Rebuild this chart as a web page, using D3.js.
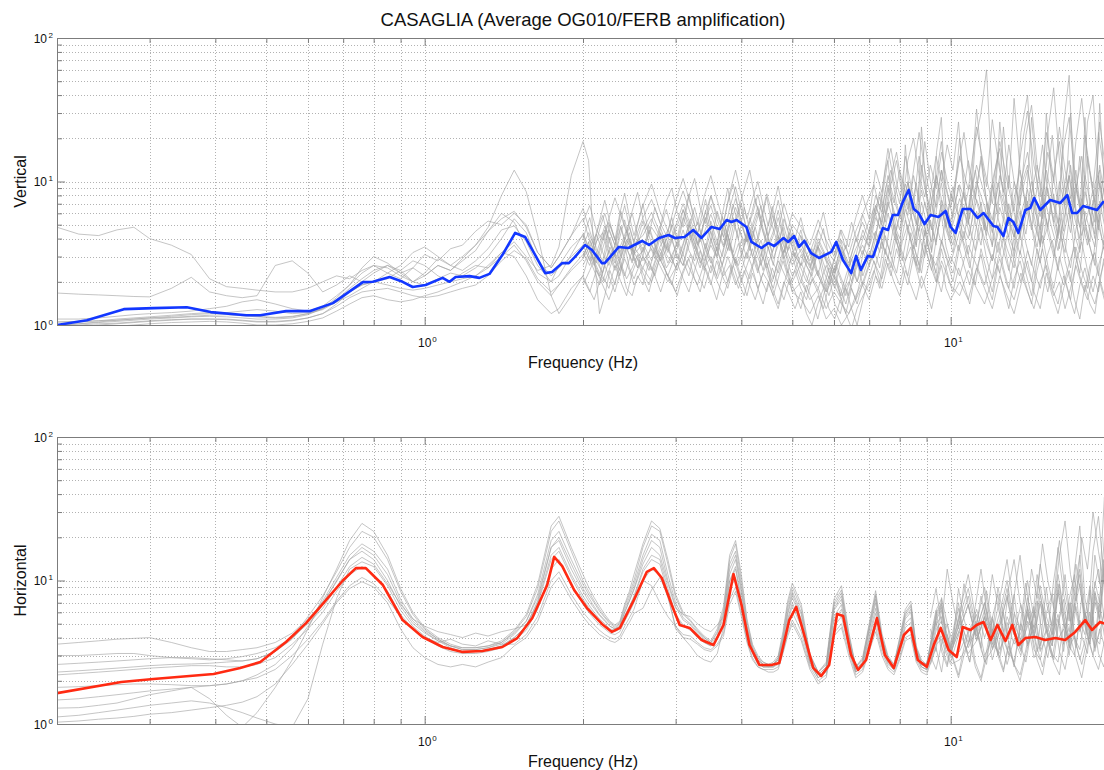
<!DOCTYPE html>
<html>
<head>
<meta charset="utf-8">
<script src="https://cdn.jsdelivr.net/npm/d3@7"></script>
<style>
  body { margin: 0; background: #fff; }
  text { font-family: "Liberation Sans", Arial, Helvetica, sans-serif; fill: #111; }
</style>
</head>
<body>
<script>
// ---- Data -------------------------------------------------------------
// Frequency samples (Hz) of the full-band event ratios
const freqHz = [
  0.20,0.22,0.24,0.26,0.28,0.30,0.33,0.36,0.39,0.42,0.45,0.48,0.52,0.56,0.60,0.64,0.68,0.72,0.76,0.80,
  0.85,0.90,0.95,1.00,1.06,1.12,1.18,1.25,1.32,1.40,1.48,1.56,1.64,1.74,1.80,1.90,
  2.00,2.05,2.10,2.15,2.20,2.25,2.30,2.35,2.40,2.45,2.50,
  2.6,2.7,2.8,2.9,3.0,3.1,3.2,3.3,3.4,3.5,3.6,3.7,3.8,3.9,4.0,4.1,4.2,4.3,4.4,4.5,4.6,4.7,4.8,4.9,5.0,
  5.2,5.4,5.6,5.8,6.0,6.2,6.4,6.6,6.8,7.0,7.2,7.4,7.6,7.8,8.0,8.2,8.4,8.6,8.8,9.0,9.2,9.4,9.6,9.8,10,
  10.4,10.8,11.2,11.6,12,12.4,12.8,13.2,13.6,14,14.4,14.8,15.2,15.6,16,16.4,16.8,17.2,17.6,18,18.4,18.8,19.2,19.6,20
];
// Frequency samples (Hz) of the records that are usable only above 2 Hz
const vertHfHz = [
  2.0,2.06,2.12,2.18,2.24,2.3,2.36,2.42,2.48,2.54,2.6,2.67,2.74,2.81,2.88,2.95,
  3.02,3.1,3.18,3.26,3.34,3.42,3.5,3.59,3.68,3.77,3.86,3.95,
  4.05,4.15,4.25,4.36,4.47,4.58,4.7,4.82,4.94,
  5.06,5.19,5.32,5.45,5.59,5.73,5.87,6.02,6.17,6.32,6.48,6.64,6.81,6.98,
  7.15,7.33,7.51,7.7,7.89,8.09,8.29,8.5,8.71,8.93,9.15,9.38,9.61,9.85,
  10.1,10.35,10.6,10.87,11.14,11.42,11.7,12,12.3,12.6,12.9,13.2,13.55,13.9,14.25,14.6,14.95,15.3,15.7,16.1,
  16.5,16.9,17.3,17.75,18.2,18.65,19.1,19.55,20
];
// Frequency samples (Hz) of the records that are usable only above 9 Hz
const horzHfHz = [9.15,9.38,9.61,9.85,10.1,10.35,10.6,10.87,11.14,11.42,11.7,12,12.3,12.6,12.9,13.2,13.55,13.9,14.25,14.6,
  14.95,15.3,15.7,16.1,16.5,16.9,17.3,17.75,18.2,18.65,19.1,19.55,20];

// Vertical component: full-band event ratios
const vert01 = [4.8,4.3,4.2,4.6,4.8,4.0,3.6,3.1,2.1,1.85,1.8,1.75,1.7,1.7,1.8,2.0,2.2,2.1,2.4,2.6,2.3,2.1,2.5,2.2,2.6,2.4,2.8,3.3,4.5,6.0,5.2,3.4,2.3,2.0,2.6,3.5,
  4.2,3.1,2.6,3.4,4.6,3.2,2.5,3.0,4.1,3.6,2.8,
  3.3,4.8,3.9,2.7,3.5,5.6,4.2,3.1,2.4,3.8,6.2,4.5,3.3,5.1,7.0,4.4,3.0,3.9,5.5,4.1,2.9,3.6,4.8,3.2,2.6,
  3.4,2.5,3.8,2.9,2.2,3.3,2.6,4.0,3.1,4.6,6.8,5.2,9.5,7.1,12,8.4,6.2,9.8,5.6,4.3,7.5,11,6.4,4.8,8.2,
  5.5,14,7.2,4.6,10,17,6.3,4.1,9.2,13,5.8,3.6,8.7,21,7.4,4.5,11,6.6,15,5.2,3.8,9.6,12,5.4,7.8];
const vert02 = [1.67,1.64,1.62,1.6,1.58,1.57,1.8,2.15,1.7,1.6,1.55,1.6,2.6,2.8,2.3,1.7,1.9,2.2,2.0,2.3,2.6,2.4,2.0,2.3,2.9,2.6,3.0,3.6,4.8,8.0,12,8.5,4.2,1.6,1.2,1.6,
  2.2,3.0,2.4,1.9,2.7,3.5,2.8,2.2,3.1,4.0,3.2,
  2.5,3.6,2.9,2.2,3.1,2.6,4.4,3.3,2.5,3.0,2.1,2.8,3.7,2.7,2.0,2.6,3.4,2.4,3.0,2.2,1.8,2.5,3.3,2.4,2.0,
  2.7,1.9,2.4,1.7,2.2,1.6,2.0,1.5,2.4,3.2,2.6,3.8,2.9,5.0,3.6,2.8,4.4,3.1,2.3,3.9,2.7,2.0,3.4,2.5,3.0,
  2.2,3.6,2.6,1.9,3.1,2.3,4.2,2.8,2.0,3.3,2.4,1.8,2.9,3.9,2.5,1.9,2.7,3.5,2.2,1.7,2.6,3.2,2.1,2.8,2.3];
const vert03 = [1.05,1.05,1.07,1.1,1.12,1.14,1.17,1.2,1.22,1.2,1.18,1.15,1.13,1.15,1.2,1.28,1.45,1.7,1.9,2.0,1.9,1.8,1.75,1.8,1.9,2.0,2.1,2.2,2.5,3.2,3.8,3.0,2.4,2.6,3.5,11,
  19,14,3.0,1.2,1.6,2.4,1.9,2.8,3.6,2.5,2.1,
  3.0,2.4,3.5,4.6,3.3,2.6,3.9,5.2,3.6,2.7,3.4,4.8,3.5,2.6,3.1,4.2,3.0,2.3,3.6,2.8,2.1,2.9,4.0,2.7,2.2,
  3.1,2.3,1.8,2.6,1.9,1.5,2.3,2.8,3.6,2.9,4.5,3.4,6.0,4.2,3.3,5.4,3.8,2.6,4.7,3.2,2.4,4.1,5.9,3.5,2.7,
  4.5,3.1,6.2,4.0,2.8,5.1,3.4,2.5,4.6,7.3,3.9,2.7,5.5,3.6,2.4,4.2,6.5,3.2,2.3,4.8,3.5,2.6,5.9,3.8,4.4];
const vert04 = [0.95,0.97,1.0,1.02,1.04,1.06,1.08,1.1,1.1,1.09,1.07,1.05,1.05,1.07,1.12,1.2,1.35,1.55,1.7,1.75,1.8,1.7,1.6,1.55,1.6,1.7,1.8,1.9,2.2,2.8,3.3,2.9,2.1,1.7,1.9,2.5,
  3.1,3.6,2.8,2.3,2.0,2.5,3.2,2.7,2.2,2.9,3.5,
  2.8,3.4,2.6,2.0,2.5,3.1,2.4,1.9,2.7,3.6,2.9,2.2,2.6,1.9,2.4,3.2,2.5,1.8,2.3,2.0,1.6,2.1,2.8,2.2,1.7,
  2.0,1.5,1.8,1.3,1.7,1.4,1.2,1.6,2.0,1.7,2.6,2.1,3.0,2.4,1.9,2.8,3.5,2.5,1.8,2.3,3.1,2.2,1.7,2.5,1.9,
  1.6,2.4,1.8,1.4,2.1,2.9,1.9,1.5,2.3,1.7,1.3,2.0,2.6,1.8,1.4,2.2,1.6,1.2,1.9,2.5,1.7,1.4,2.0,1.5,1.8];
const vert05 = [1.0,1.02,1.04,1.06,1.08,1.1,1.12,1.14,1.15,1.14,1.12,1.1,1.1,1.12,1.18,1.3,1.5,1.8,2.1,2.4,2.6,2.3,2.0,1.9,2.1,2.3,2.2,2.5,3.0,4.0,5.5,4.4,2.8,2.2,2.5,3.0,
  3.6,4.4,3.5,2.9,3.8,5.0,4.0,3.2,3.9,4.8,3.7,
  4.2,5.5,4.1,3.2,4.6,6.3,4.8,3.6,4.4,5.9,4.5,3.5,4.9,6.6,5.0,3.8,4.7,6.1,4.4,3.4,4.2,5.6,4.1,3.3,4.0,
  3.2,2.6,3.5,2.8,2.3,3.0,2.5,3.4,4.2,3.5,5.6,4.5,7.2,5.1,4.0,6.4,4.8,3.6,5.7,4.3,3.3,5.0,6.9,4.6,3.7,
  5.8,4.0,7.5,5.2,3.6,6.6,4.4,3.3,5.9,8.8,5.1,3.7,6.8,4.6,3.3,5.4,7.9,4.3,3.2,6.2,4.5,3.5,7.3,5.0,5.7];
const vert06 = [1.1,1.1,1.12,1.15,1.18,1.2,1.22,1.25,1.3,1.35,1.45,1.5,1.4,1.3,1.25,1.35,1.6,1.9,2.3,2.6,2.5,2.2,2.0,2.2,2.6,2.4,2.9,3.6,4.5,5.5,6.2,4.8,3.2,2.5,3.0,4.2,
  5.5,4.1,3.3,4.6,6.0,4.5,3.6,5.1,6.8,4.9,3.8,
  5.6,7.5,5.2,4.0,6.1,8.6,6.0,4.4,5.8,7.9,5.4,4.1,6.5,9.2,6.3,4.6,5.9,8.1,5.6,4.2,5.3,7.4,5.1,3.9,5.0,
  4.1,3.2,4.6,3.4,2.8,3.9,3.1,4.5,5.9,4.4,8.0,6.1,11,7.5,5.6,9.6,6.9,5.0,8.7,6.2,4.6,7.8,12,7.0,5.3,
  9.5,6.2,13,8.1,5.4,11,7.0,4.9,10,16,8.2,5.7,12,7.6,5.1,9.0,14,6.8,4.8,11,7.3,5.2,13,8.0,9.4];
const vert07 = [1.0,1.0,1.02,1.03,1.05,1.07,1.09,1.1,1.1,1.1,1.08,1.06,1.06,1.08,1.12,1.2,1.4,1.7,1.9,2.0,2.1,2.4,2.8,2.6,2.2,2.0,2.3,2.6,2.5,3.0,3.6,2.8,2.0,1.6,1.9,2.4,
  2.9,3.8,2.7,2.2,3.0,4.1,3.0,2.4,3.3,4.4,3.1,
  3.7,2.8,4.9,3.4,2.5,3.6,5.5,3.8,2.8,4.0,3.0,5.2,3.7,2.7,3.9,2.9,4.5,3.3,2.4,3.5,2.6,4.1,3.0,2.3,3.2,
  2.6,3.4,2.2,1.7,2.9,2.1,1.6,2.4,3.3,2.6,4.0,7.5,14,5.0,3.0,18,6.0,3.5,24,8.0,3.2,16,28,6.0,4.0,
  20,5.0,32,9.0,3.5,26,7.0,3.0,22,40,8.0,3.5,30,9.0,4.0,25,55,7.0,3.4,28,6.0,4.0,35,9.0,22];
const vert08 = [1.05,1.06,1.07,1.08,1.1,1.12,1.13,1.15,1.17,1.18,1.16,1.14,1.12,1.14,1.2,1.3,1.55,1.9,2.5,3.0,2.7,2.3,2.5,3.1,2.8,3.4,3.6,4.5,5.3,5.0,6.0,5.0,3.2,2.5,3.0,4.2,
  6.5,4.8,3.6,5.3,7.4,5.2,3.9,6.0,8.3,5.7,4.2,
  6.8,9.6,6.2,4.5,7.3,10.5,7.0,5.0,7.9,11,7.4,5.2,8.3,12,8.0,5.5,7.6,10,6.8,4.9,6.6,9.3,6.2,4.6,6.0,
  4.8,3.6,5.4,3.9,3.0,4.6,3.5,5.6,8.0,5.5,12,8.4,17,10,7.0,15,9.5,6.3,13,8.2,5.7,11,19,9.3,6.6,
  15,8.8,24,12,7.0,19,10,6.2,16,31,13,7.8,22,12,6.9,18,28,11,6.5,21,12,7.2,26,14,17];
const vert09 = [0.9,0.92,0.95,0.98,1.0,1.02,1.04,1.05,1.06,1.05,1.03,1.0,1.0,1.02,1.06,1.12,1.25,1.4,1.55,1.6,1.5,1.45,1.5,1.6,1.7,1.85,2.0,2.2,2.6,3.2,3.0,2.2,1.5,1.2,1.3,1.8,
  2.2,1.8,1.5,2.0,2.6,2.1,1.7,2.3,2.9,2.4,1.9,
  2.5,2.0,2.9,2.2,1.7,2.4,3.1,2.3,1.8,2.6,2.0,1.6,2.2,2.9,2.1,1.6,2.3,1.8,1.4,2.0,1.6,1.3,1.8,2.4,1.7,
  1.5,1.2,1.6,1.1,1.3,1.0,1.2,1.5,1.9,1.5,2.2,1.8,2.7,2.0,1.6,2.4,1.9,1.5,2.2,1.7,1.3,1.9,2.6,1.8,1.5,
  2.0,1.5,2.5,1.8,1.3,2.2,1.6,1.2,1.9,2.8,1.7,1.3,2.3,1.6,1.2,1.8,2.4,1.5,1.1,1.9,1.4,1.2,2.1,1.6,1.8];
const vert10 = [1.0,1.02,1.05,1.08,1.1,1.12,1.15,1.18,1.2,1.22,1.25,1.28,1.25,1.2,1.22,1.3,1.45,1.6,1.8,2.0,2.3,2.6,3.2,3.5,3.0,2.6,2.4,2.8,3.4,4.6,4.9,3.8,2.6,2.0,2.2,3.1,
  4.3,3.4,2.8,3.7,4.9,3.8,3.0,4.1,5.4,4.0,3.2,
  4.6,6.1,4.4,3.3,4.9,7.0,5.0,3.7,5.2,6.8,4.8,3.6,5.5,7.6,5.2,3.8,5.0,6.7,4.7,3.6,4.5,6.3,4.4,3.4,4.3,
  3.6,2.8,4.0,3.0,2.4,3.5,2.7,3.9,5.2,3.9,6.8,5.0,9.0,6.3,4.6,7.9,5.8,4.2,7.2,5.1,3.8,6.4,9.8,5.8,4.4,
  7.6,5.1,10,6.6,4.4,8.7,5.7,4.1,7.9,12,6.6,4.6,9.2,6.1,4.2,7.3,11,5.6,4.0,8.5,5.9,4.3,9.8,6.4,7.5];

// Vertical component: ratios usable above 2 Hz
const vertHf01 = [3.2,2.6,3.8,4.4,3.1,2.4,2.9,3.9,3.3,2.5,3.0,4.6,3.6,2.8,3.4,4.1,
  2.9,3.7,5.0,3.8,2.7,3.3,4.5,3.4,2.6,3.9,5.6,3.9,
  2.9,3.6,4.8,3.3,2.5,3.2,4.2,2.9,3.5,
  2.6,2.0,2.8,3.4,2.3,1.8,2.5,2.1,1.6,2.2,2.9,2.0,2.6,3.4,
  4.4,3.2,5.8,7.6,4.6,6.9,9.8,6.0,4.5,7.2,5.1,3.8,6.3,4.7,
  3.6,5.9,8.4,4.8,3.3,6.1,4.2,9.5,5.6,3.9,7.0,4.4,3.1,5.8,10,6.0,3.7,4.9,8.2,4.5,3.2,6.6,12,5.4,3.6,7.4,4.6,9.0,5.2];
const vertHf02 = [5.2,6.8,4.6,3.9,5.5,7.7,5.8,4.4,6.2,8.4,5.5,4.3,6.6,5.0,7.3,9.0,
  6.1,4.8,7.9,10.5,6.6,5.1,8.0,6.0,4.7,7.1,9.6,6.4,
  8.8,12,7.4,5.5,8.2,6.0,4.6,7.0,5.2,
  4.0,5.6,3.8,3.0,4.4,6.1,4.0,3.1,4.6,3.4,5.2,3.8,6.0,7.6,
  9.5,6.4,12,17,9.8,7.0,14,20,11,7.8,13,9.0,16,10,
  7.2,13,22,11,7.5,15,9.2,27,14,8.4,18,10,6.8,21,34,13,8.0,16,10,24,12,7.6,19,38,14,9.0,22,12,16];
const vertHf03 = [2.1,1.7,2.4,1.9,1.5,2.0,2.6,1.8,1.6,2.2,1.9,2.8,2.2,1.7,2.3,2.0,
  1.6,2.3,2.9,2.1,1.7,2.5,2.0,1.5,2.2,3.0,2.3,1.8,
  2.4,1.9,1.5,2.1,2.7,1.8,1.4,2.0,1.6,
  1.3,1.7,1.2,1.0,1.4,1.8,1.3,1.1,1.5,1.2,0.95,1.3,1.6,1.9,
  2.4,1.8,2.9,2.2,3.4,2.5,1.9,3.0,2.3,3.6,2.6,2.0,2.8,2.2,
  1.7,2.5,1.9,1.4,2.3,3.1,2.0,1.5,2.6,1.8,1.3,2.1,2.8,1.9,1.4,2.4,3.4,2.2,1.6,2.0,1.3,1.8,2.6,1.9,1.5,2.2,1.7,2.9,2.1];
const vertHf04 = [4.0,5.6,3.4,2.8,4.6,3.6,6.2,4.5,3.3,5.0,7.0,4.2,3.1,4.8,6.4,4.6,
  3.5,5.4,8.2,5.0,3.8,6.3,4.4,3.3,5.9,9.0,5.3,4.0,
  6.6,4.6,3.4,5.2,7.8,4.9,3.6,5.5,4.1,
  3.0,4.2,2.6,2.2,3.4,4.7,2.9,2.3,3.6,2.7,2.0,2.9,4.0,5.2,
  6.5,4.7,8.8,12,7.0,5.2,10,6.8,15,9.0,6.2,11,7.5,5.6,
  9.2,5.8,4.0,7.6,12,6.5,4.5,8.8,16,7.8,5.0,10,6.4,4.3,8.2,13,7.0,4.8,11,19,8.6,5.5,9.6,6.2,15,8.0,5.2,12,7.8];
const vertHf05 = [2.6,3.3,2.4,2.0,2.8,3.6,2.7,2.1,2.5,3.1,2.3,1.9,2.7,3.4,2.5,2.9,
  3.8,2.8,2.2,3.2,4.1,2.9,2.3,3.5,2.6,2.0,2.9,3.7,
  2.6,2.1,3.0,3.9,2.7,2.0,2.8,2.3,1.9,
  2.4,1.8,1.5,2.1,1.7,1.3,1.9,2.5,1.6,1.2,1.8,1.4,2.0,2.6,
  3.3,2.5,4.2,3.0,2.3,3.8,5.0,3.2,2.4,4.4,3.1,2.6,3.9,2.9,
  2.3,3.6,2.6,1.9,3.2,4.8,2.9,2.1,3.8,2.5,1.8,3.0,4.4,2.7,2.0,3.4,2.4,1.7,2.9,5.0,2.8,2.0,3.5,2.4,1.8,3.1,2.2,3.9,2.6];
const vertHf06 = [3.6,2.8,4.4,5.8,3.9,3.0,4.9,3.5,2.7,4.0,5.3,3.7,2.9,4.3,3.4,5.0,
  4.0,6.4,4.6,3.4,5.2,7.5,4.9,3.6,5.7,4.2,3.2,4.8,
  3.8,5.6,4.0,3.0,4.5,6.7,4.2,3.2,4.7,
  3.5,2.6,3.9,2.8,2.2,3.2,2.4,1.8,2.7,3.6,2.5,2.0,3.1,4.2,
  5.6,8.5,6.0,11,16,9.0,6.4,12,22,12,8.0,15,10,18,
  12,26,8.0,5.5,19,30,60,10,6.0,24,9.0,38,12,6.5,28,9.5,5.5,22,45,14,7.0,30,9.0,5.5,26,40,10,6.5,20];
const vertHf07 = [2.9,3.5,4.3,3.2,2.6,3.6,4.8,3.4,2.8,3.9,3.0,2.4,3.3,4.4,3.1,2.7,
  3.4,4.6,3.3,2.8,4.0,5.6,3.9,3.0,4.4,3.3,4.9,6.4,
  4.5,3.3,4.9,6.8,4.3,3.2,4.6,3.5,2.7,
  3.2,2.5,2.0,2.7,3.5,2.4,1.9,2.6,2.1,1.6,2.3,3.0,2.2,2.9,
  3.9,5.6,4.0,3.1,4.8,7.0,4.6,3.4,5.8,4.2,8.0,5.0,3.7,6.2,
  4.5,3.3,6.4,9.5,5.2,3.6,7.0,4.6,3.2,5.5,11,6.0,4.0,7.8,5.0,3.5,6.0,9.0,5.0,3.4,7.4,13,6.5,4.2,5.8,8.8,4.9,3.6,6.4];
const vertHf08 = [1.9,2.4,3.1,2.2,1.8,2.6,2.0,1.6,2.3,2.9,2.1,1.7,2.5,3.2,2.3,1.9,
  2.7,2.1,1.7,2.4,3.3,2.4,1.9,2.8,2.2,1.8,2.6,2.0,
  1.6,2.3,3.0,2.1,1.7,2.5,1.9,1.5,2.1,
  1.7,1.3,1.9,1.5,1.1,1.6,2.2,1.4,1.2,1.8,1.3,1.0,1.5,2.1,
  2.8,2.0,3.4,2.5,4.3,3.0,2.2,3.6,2.6,4.6,3.1,2.3,3.8,2.8,
  2.0,3.2,4.5,2.7,1.9,3.4,2.4,1.7,2.9,4.0,2.5,1.8,3.3,2.3,1.6,2.8,4.2,2.6,1.8,3.0,2.1,1.5,2.7,3.8,2.4,1.7,2.6,3.5,2.3];
const vertHf09 = [4.4,3.3,2.7,3.8,5.2,3.9,3.0,4.5,6.0,4.2,3.2,4.9,3.6,2.8,4.1,5.6,
  4.0,3.1,4.7,6.6,4.6,3.4,5.3,3.9,3.0,4.6,6.9,4.8,
  3.6,5.3,7.6,5.0,3.7,5.8,4.1,3.2,4.4,
  3.3,4.6,3.1,2.4,3.6,2.7,2.1,2.9,4.0,2.8,2.2,3.3,4.6,3.6,
  5.4,7.8,5.2,9.6,14,8.0,5.8,11,7.2,19,10,6.6,12,8.2,
  5.6,9.4,6.2,4.2,8.0,14,7.4,4.8,9.8,6.0,4.1,7.6,12,6.8,4.6,9.2,18,8.4,5.2,10,6.6,4.4,8.8,15,7.0,4.9,11,6.8,9.0];
const vertHf10 = [3.0,3.9,2.8,2.3,3.3,2.7,3.6,4.6,3.2,2.5,3.5,2.7,2.2,3.1,4.0,2.9,
  2.4,3.3,4.4,3.2,2.5,3.7,2.8,2.2,3.2,4.3,3.0,2.6,
  3.5,4.8,3.3,2.6,3.7,2.8,2.3,3.2,4.1,
  2.9,2.2,1.7,2.4,3.1,2.1,1.6,2.2,1.8,1.4,2.0,2.7,1.9,2.5,
  3.2,4.5,3.1,5.6,3.8,2.8,4.6,6.8,4.2,3.0,5.4,3.6,7.4,4.6,
  3.2,5.2,3.5,2.5,4.4,7.2,4.0,2.8,5.0,3.3,2.4,4.1,6.2,3.7,2.6,4.8,8.4,4.4,3.0,5.6,3.6,2.5,4.6,7.6,4.1,2.9,5.4,3.4,4.8];

// Horizontal component: full-band event ratios
const horz01 = [3.6,3.7,3.8,3.9,3.95,4.0,3.7,3.4,3.2,3.2,3.3,3.4,3.7,4.3,5.4,7.0,9.8,14,16,14,10,6.6,5.0,4.3,3.8,3.5,3.4,3.4,3.5,3.7,4.3,5.2,7.6,17,19,12,
  8.4,7.2,6.4,5.7,5.2,4.8,4.6,4.9,6.0,7.2,8.6,
  13,17,15,9.5,6.4,5.8,5.6,5.0,4.6,4.4,4.9,5.6,11,14,8.2,4.6,3.3,2.8,2.6,2.6,2.6,2.8,3.8,5.8,7.6,
  5.4,2.8,2.2,2.5,6.2,7.4,3.8,2.4,2.7,4.4,7.0,3.8,2.8,2.5,3.6,5.4,6.0,3.2,2.6,2.5,3.6,5.4,6.2,4.0,3.1,
  4.6,6.8,3.9,5.5,3.4,4.9,7.6,4.2,3.3,5.8,4.0,6.9,4.4,3.5,8.2,5.0,3.7,6.3,9.5,4.8,3.6,7.1,5.2,11,6.0];
const horz02 = [3.0,3.0,3.05,3.1,3.1,3.0,2.9,2.85,2.8,2.85,2.95,3.1,3.4,4.0,5.0,6.4,9.0,12.5,14.5,13,9.5,6.8,5.4,4.8,4.4,4.2,4.0,4.3,4.1,4.4,4.6,4.9,7.0,15,17,11,
  7.8,6.8,6.0,5.4,5.0,4.6,4.5,4.7,5.7,6.6,7.8,
  12,15,14,8.8,5.8,4.9,4.6,4.1,3.7,3.5,3.9,5.2,10,12.5,7.4,4.4,3.2,2.7,2.5,2.5,2.5,2.7,3.6,5.4,7.0,
  5.0,2.7,2.1,2.4,5.6,6.8,3.6,2.3,2.6,4.1,6.4,3.6,2.7,2.4,3.4,5.0,5.5,3.1,2.5,2.4,3.4,5.0,5.6,3.8,3.0,
  5.8,3.4,4.6,7.0,3.6,3.1,5.6,4.2,6.8,3.5,4.9,3.3,5.9,8.1,3.9,4.6,3.0,6.9,4.4,5.5,9.2,4.0,3.6,6.4,5.0];
const horz03 = [2.3,2.35,2.4,2.45,2.5,2.55,2.6,2.62,2.65,2.7,2.75,2.85,3.2,4.0,5.6,7.8,11.5,17,22,20,14,8.4,5.8,4.6,3.9,3.5,3.3,3.3,3.4,3.7,4.4,5.6,8.8,22,26,16,
  10,8.4,7.2,6.3,5.6,5.1,4.8,5.1,6.6,8.0,10,
  17,24,22,13,7.6,5.8,5.2,4.5,4.0,3.7,4.4,6.2,14,18,10,5.2,3.5,2.9,2.7,2.6,2.6,2.9,4.2,6.8,9.0,
  6.4,3.0,2.3,2.6,7.0,8.6,4.2,2.5,2.8,4.8,8.0,4.1,2.9,2.6,3.9,6.0,6.8,3.4,2.7,2.6,3.9,6.0,7.0,4.3,3.3,
  5.0,7.8,4.1,6.2,3.6,5.3,8.8,4.6,3.5,6.6,4.3,8.0,5.0,3.8,9.5,5.6,4.0,7.4,12,5.3,3.9,8.4,6.0,14,7.2];
const horz04 = [2.2,2.25,2.3,2.35,2.4,2.45,2.5,2.55,2.55,2.5,2.5,2.6,2.9,3.6,4.6,6.0,8.4,11,12.5,11,8.4,5.8,4.6,4.0,3.5,3.2,3.1,3.1,3.2,3.4,3.8,4.5,6.3,12,14,9.5,
  6.8,6.0,5.4,4.9,4.6,4.3,4.2,4.4,5.2,6.0,7.0,
  10,12,11,7.6,4.8,4.0,3.5,3.0,2.8,2.7,3.1,4.7,8.6,10.5,6.6,4.1,3.1,2.6,2.5,2.5,2.5,2.6,3.4,4.8,6.0,
  4.4,2.6,2.1,2.3,4.8,5.6,3.4,2.3,2.5,3.7,5.2,3.4,2.6,2.4,3.1,4.3,4.6,2.9,2.5,2.4,3.1,4.1,4.5,3.5,2.9,
  3.2,4.4,5.8,3.0,3.9,2.9,5.1,3.6,4.3,6.4,3.3,2.8,4.6,3.7,5.4,3.2,7.0,4.0,3.3,5.9,4.5,3.4,6.9,4.1,5.6];
const horz05 = [1.8,1.82,1.85,1.88,1.9,1.9,1.88,1.85,1.85,1.9,2.0,2.2,2.6,3.4,4.8,6.8,10,14,17,15,11,7.0,5.2,4.4,3.8,3.4,3.2,3.2,3.3,3.5,4.0,4.8,7.2,17,20,13,
  8.8,7.6,6.6,5.8,5.3,4.8,4.6,4.8,6.0,7.2,8.8,
  14,19,17,10,6.6,5.3,4.9,4.3,3.9,3.6,4.1,5.6,12,15,8.6,4.7,3.3,2.8,2.6,2.5,2.6,2.8,3.9,6.0,8.0,
  5.8,2.9,2.2,2.5,6.4,7.8,3.9,2.4,2.7,4.5,7.4,3.9,2.8,2.5,3.7,5.6,6.3,3.3,2.6,2.5,3.7,5.6,6.5,4.1,3.2,
  4.5,6.8,3.8,5.6,3.3,4.8,7.9,4.3,3.2,6.0,4.0,7.2,4.6,3.5,8.6,5.1,3.7,6.8,11,5.0,3.6,7.7,5.5,13,6.6];
const horz06 = [1.47,1.5,1.55,1.6,1.65,1.7,1.75,1.8,1.85,1.9,2.0,2.1,2.4,3.0,3.9,5.2,7.2,9.2,10.5,9.5,7.4,5.6,4.6,4.0,3.7,3.9,3.6,3.5,3.8,3.6,3.6,4.2,5.6,10,11.5,8.0,
  6.0,5.4,4.9,4.5,4.2,4.0,3.9,4.1,4.8,5.5,6.3,
  10,9.2,7.0,5.6,4.8,4.2,4.1,3.7,3.4,3.3,3.6,4.3,7.4,9.0,5.9,3.8,2.9,2.5,2.4,2.4,2.4,2.5,3.2,4.3,5.3,
  4.0,2.5,2.0,2.2,4.3,5.0,3.2,2.2,2.4,3.4,4.7,3.2,2.5,2.3,2.9,4.0,4.2,2.8,2.4,2.3,2.9,3.8,4.1,3.3,2.7,
  4.4,3.1,3.8,5.6,2.8,4.5,3.3,2.7,5.0,3.6,6.2,3.2,4.0,2.9,4.9,7.4,3.5,3.0,5.3,4.2,8.6,3.4,4.4,6.0,3.8];
const horz07 = [1.29,1.3,1.35,1.4,1.5,1.6,1.7,1.8,1.5,1.15,0.95,1.2,1.8,2.8,4.6,7.6,12,19,25,22,15,8.8,6.0,4.7,4.0,3.6,3.4,3.4,3.5,3.8,4.5,5.8,9.4,24,28,17,
  11,9.0,7.6,6.6,5.8,5.2,4.9,5.2,6.8,8.4,11,
  18,26,23,14,8.0,6.0,5.3,4.6,4.1,3.8,4.6,6.6,15,19,11,5.4,3.6,3.0,2.7,2.6,2.7,3.0,4.4,7.2,9.6,
  6.8,3.1,2.3,2.7,7.4,9.2,4.4,2.5,2.9,5.0,8.5,4.3,3.0,2.6,4.0,6.3,7.2,3.5,2.8,2.6,4.0,6.3,7.4,4.5,3.4,
  5.6,8.8,4.5,7.0,3.9,6.0,10,5.0,3.8,7.6,4.7,9.2,5.6,4.2,11,6.2,4.4,8.6,15,6.0,4.3,9.8,7.0,20,8.5];
const horz08 = [1.12,1.15,1.2,1.25,1.3,1.35,1.4,1.45,1.4,1.3,1.2,1.1,1.0,0.95,1.5,3.6,7.5,12,13.5,12.5,9.2,6.2,4.8,4.1,3.6,3.3,3.2,3.2,3.3,3.5,4.0,4.8,6.8,14,16,10.5,
  7.4,6.5,5.8,5.2,4.8,4.5,4.4,4.6,5.6,6.4,7.6,
  11.5,14,13,8.2,5.6,4.8,4.5,4.0,3.7,3.5,3.9,5.0,9.8,12,7.1,4.3,3.2,2.7,2.5,2.5,2.5,2.7,3.6,5.2,6.6,
  4.8,2.7,2.1,2.4,5.3,6.3,3.5,2.3,2.6,3.9,5.9,3.6,2.7,2.4,3.3,4.7,5.1,3.0,2.5,2.4,3.3,4.6,5.2,3.7,3.0,
  5.2,3.7,6.3,4.0,5.6,3.3,4.4,8.0,3.6,4.8,6.6,3.5,9.0,4.2,5.8,3.6,7.4,11,4.5,6.0,4.1,8.2,5.4,13,5.8];
const horz09 = [1.03,1.05,1.08,1.1,1.13,1.17,1.2,1.25,1.3,1.35,1.42,1.55,1.9,2.6,3.6,5.0,7.0,8.8,9.8,9.0,7.0,4.6,3.4,2.9,2.6,2.5,2.6,2.5,2.7,2.9,3.5,4.0,5.2,9.0,10.5,7.4,
  5.6,5.0,4.6,4.2,4.0,3.8,3.7,3.9,4.5,5.1,5.9,
  6.4,8.6,10.5,8.0,4.6,4.0,3.9,3.6,3.3,3.2,3.5,4.1,6.8,8.4,5.6,3.7,2.8,2.5,2.4,2.3,2.3,2.4,3.1,4.1,5.0,
  3.8,2.4,1.9,2.1,4.1,4.7,3.0,2.1,2.3,3.2,4.4,3.0,2.4,2.2,2.8,3.8,4.0,2.7,2.3,2.2,2.8,3.6,3.9,3.1,2.6,
  2.8,3.6,4.8,2.7,3.3,4.4,2.6,3.9,3.0,5.2,2.9,3.6,4.5,3.1,2.7,5.0,3.4,4.1,2.8,3.8,6.0,3.2,4.6,3.5,4.9];
const horz10 = [2.6,2.65,2.7,2.75,2.8,2.85,2.9,2.9,2.85,2.8,2.75,2.85,3.2,3.9,5.2,7.2,10.5,15,18,16,12,7.4,5.4,4.5,3.9,3.5,3.3,3.3,3.4,3.6,4.2,5.2,8.0,19,22,14,
  9.4,8.0,7.0,6.1,5.5,5.0,4.7,5.0,6.3,7.6,9.4,
  15,21,19,11,7.0,5.5,5.0,4.4,4.0,3.7,4.3,5.9,13,16,9.2,4.9,3.4,2.9,2.6,2.6,2.6,2.9,4.0,6.4,8.4,
  6.0,3.0,2.3,2.6,6.7,8.2,4.1,2.5,2.8,4.7,7.8,4.0,2.9,2.5,3.8,5.8,6.6,3.4,2.7,2.6,3.8,5.8,6.8,4.2,3.3,
  6.0,11,5.0,9.0,4.2,7.5,14,6.0,4.5,10,5.5,13,7.0,4.8,17,8.0,5.2,12,24,7.5,5.0,15,9.5,38,14];

// Horizontal component: ratios usable above 9 Hz
const horzHf01 = [4.0,6.2,3.5,2.6,4.4,7.0,3.8,2.7,5.2,3.4,8.5,4.6,3.0,6.0,3.6,2.5,4.8,9.6,5.0,3.2,6.8,4.0,2.8,5.5,11,5.2,3.4,7.6,4.2,3.0,6.4,14,6.0];
const horzHf02 = [3.0,2.4,3.6,5.0,2.9,2.2,3.4,4.6,2.7,2.1,3.2,5.4,3.0,2.3,3.8,2.6,2.0,3.1,4.4,2.8,2.2,3.6,6.0,3.2,2.4,4.0,2.9,2.1,3.5,5.6,3.1,2.5,4.2];
const horzHf03 = [5.5,8.8,5.0,12,7.0,4.6,9.5,6.0,4.2,7.8,5.2,11,6.6,4.4,9.0,14,7.0,5.0,12,7.5,18,10,6.4,15,26,11,7.2,20,12,30,16,9.5,45];
const horzHf04 = [2.6,3.4,2.3,4.2,2.8,2.1,3.0,3.9,2.5,2.0,2.9,4.6,3.2,2.4,3.5,2.6,2.2,3.3,5.2,3.4,2.5,3.8,2.7,2.2,4.4,7.0,3.6,2.6,4.0,3.0,2.4,3.6,5.5];
const horzHf05 = [4.6,3.2,7.6,5.0,3.6,8.8,5.4,3.8,6.6,12,6.2,4.2,9.0,5.6,3.9,7.8,15,7.2,4.6,11,6.4,4.4,10,19,8.5,5.2,13,7.4,5.0,16,28,11,8.0];
const horzHf06 = [3.6,5.2,3.2,2.5,4.1,6.4,3.7,2.7,4.8,3.3,2.6,5.5,8.0,4.2,3.0,5.9,3.6,2.7,4.6,7.2,4.0,2.9,5.2,9.4,4.8,3.3,6.6,4.1,3.1,8.2,12,5.6,4.0];

const vertTraceSets = [
  { hz: freqHz, traces: [vert01, vert02, vert03, vert04, vert05, vert06, vert07, vert08, vert09, vert10] },
  { hz: vertHfHz, traces: [vertHf01, vertHf02, vertHf03, vertHf04, vertHf05, vertHf06, vertHf07, vertHf08, vertHf09, vertHf10] }
];
const horzTraceSets = [
  { hz: freqHz, traces: [horz01, horz02, horz03, horz04, horz05, horz06, horz07, horz08, horz09, horz10] },
  { hz: horzHfHz, traces: [horzHf01, horzHf02, horzHf03, horzHf04, horzHf05, horzHf06] }
];

// Average amplification, vertical component
const vertMeanHz = [0.2,0.228,0.268,0.305,0.353,0.392,0.458,0.487,0.545,0.606,0.669,0.763,0.797,0.858,0.908,0.949,1.004,1.082,1.115,1.145,
  1.217,1.271,1.328,1.405,1.486,1.553,1.695,1.747,1.825,1.88,1.931,2.018,2.08,2.173,2.2,2.34,2.44,2.59,2.67,2.79,
  2.91,2.99,3.12,3.24,3.36,3.51,3.64,3.75,3.83,3.92,4.09,4.18,4.37,4.5,4.62,4.81,4.91,5.04,5.15,5.27,
  5.43,5.62,5.93,6.06,6.24,6.47,6.61,6.75,6.96,7.12,7.43,7.6,7.76,7.94,8.11,8.32,8.51,8.69,8.92,9.16,
  9.48,9.78,10.0,10.22,10.54,10.91,11.25,11.55,12.06,12.27,12.6,12.88,13.16,13.45,13.87,14.17,14.42,14.8,15.46,16.15,
  16.66,17.02,17.4,17.86,18.98,19.49,20];
const vertMeanAmp = [1.0,1.08,1.29,1.31,1.33,1.23,1.17,1.17,1.25,1.25,1.42,1.99,2.0,2.16,2.0,1.84,1.9,2.13,2.0,2.16,
  2.19,2.13,2.27,3.07,4.38,4.1,2.3,2.34,2.7,2.7,2.98,3.61,3.33,2.7,2.7,3.5,3.44,3.85,3.61,4.04,
  4.24,4.04,4.1,4.59,4.04,4.82,4.67,5.39,5.22,5.39,4.82,3.79,3.44,3.73,3.55,4.04,3.79,4.17,3.5,3.85,
  3.17,2.93,3.23,3.79,2.84,2.3,3.03,2.42,3.03,2.98,4.74,4.59,5.84,5.84,7.2,8.73,6.43,6.03,5.05,5.84,
  5.66,6.23,4.82,4.38,6.43,6.43,5.57,6.03,4.9,4.82,4.17,5.57,5.22,4.38,6.33,6.54,7.67,6.33,7.43,7.08,
  8.05,6.03,6.03,6.75,6.33,7.2,7.0];

// Average amplification, horizontal component
const horzMeanHz = [0.2,0.265,0.305,0.397,0.446,0.487,0.545,0.595,0.633,0.699,0.74,0.773,0.833,0.908,0.991,1.082,1.18,1.288,1.405,1.5,
  1.602,1.71,1.763,1.826,1.924,2.035,2.173,2.27,2.351,2.499,2.645,2.727,2.824,2.95,3.054,3.19,3.362,3.542,3.7,3.865,
  4.003,4.144,4.329,4.561,4.723,4.934,5.087,5.268,5.479,5.674,5.875,6.083,6.245,6.466,6.667,6.904,7.241,7.499,7.798,8.147,
  8.4,8.661,9.008,9.287,9.574,9.913,10.27,10.54,10.91,11.2,11.55,11.91,12.27,12.71,13.1,13.45,13.87,14.49,15.13,15.81,
  16.51,17.25,18.02,18.57,19.23,20];
const horzMeanAmp = [1.64,1.96,2.06,2.23,2.46,2.7,3.73,5.05,6.54,10.0,12.2,12.2,9.3,5.3,4.04,3.44,3.18,3.23,3.44,3.97,
  5.48,9.3,14.6,12.6,8.59,6.43,4.98,4.38,4.67,7.31,11.5,12.2,10.4,6.75,4.9,4.67,3.85,3.55,4.9,11.1,
  6.75,3.55,2.58,2.58,2.66,5.3,6.54,4.17,2.46,2.16,2.58,5.84,5.66,3.03,2.38,2.79,5.48,3.03,2.46,4.17,
  4.67,2.79,2.5,3.55,4.67,3.28,2.93,4.74,4.52,4.9,5.14,3.85,4.9,3.79,4.9,3.55,3.97,4.04,3.85,3.97,
  3.85,4.38,5.3,4.52,5.14,4.9];

// Axis labelling
const ampTickExps = [0, 1, 2];
const freqTickExps = [0, 1];
const chartTitle = "CASAGLIA (Average OG010/FERB amplification)";
const freqLabel = "Frequency (Hz)";

// ---- Drawing ----------------------------------------------------------
const W = 1104, H = 770;
const svg = d3.select("body").append("svg").attr("width", W).attr("height", H);

const x = d3.scaleLog().domain([0.2, 20]).range([57, 1109]);
const isDecade = v => Math.abs(Math.log10(v) - Math.round(Math.log10(v))) < 1e-6;
const axisColor = "#7c7c7c";

svg.append("text")
  .attr("x", 583).attr("y", 26)
  .attr("text-anchor", "middle")
  .style("font-size", "18.5px")
  .text(chartTitle);

const panels = [
  { top: 38, bottom: 325, sets: vertTraceSets, meanHz: vertMeanHz, meanAmp: vertMeanAmp, color: "#1237ff", label: "Vertical" },
  { top: 437, bottom: 724, sets: horzTraceSets, meanHz: horzMeanHz, meanAmp: horzMeanAmp, color: "#ff2a12", label: "Horizontal" }
];

panels.forEach((p, i) => {
  const y = d3.scaleLog().domain([1, 100]).range([p.bottom, p.top]);
  const g = svg.append("g");

  const clipId = "plotclip" + i;
  svg.append("clipPath").attr("id", clipId)
    .append("rect")
    .attr("x", x(0.2)).attr("y", y(100))
    .attr("width", x(20) - x(0.2)).attr("height", y(1) - y(100));

  // dotted grid on every decade and sub-decade
  const grid = g.append("g")
    .attr("stroke", "#b2b2b2").attr("stroke-width", 1)
    .attr("stroke-dasharray", "1,2").attr("shape-rendering", "crispEdges");
  grid.selectAll("line.gx")
    .data(x.ticks().filter(t => t > 0.2001 && t < 19.999))
    .join("line").attr("class", "gx")
    .attr("x1", d => Math.round(x(d)) + 0.5).attr("x2", d => Math.round(x(d)) + 0.5)
    .attr("y1", p.top).attr("y2", p.bottom);
  grid.selectAll("line.gy")
    .data(y.ticks().filter(t => t > 1.0001 && t < 99.99))
    .join("line").attr("class", "gy")
    .attr("x1", x(0.2)).attr("x2", x(20))
    .attr("y1", d => Math.round(y(d)) + 0.5).attr("y2", d => Math.round(y(d)) + 0.5);

  // individual event curves and their average
  const line = d3.line().x(d => x(d[0])).y(d => y(d[1]));
  const plot = g.append("g").attr("clip-path", `url(#${clipId})`);
  p.sets.forEach(set => {
    plot.append("g").selectAll("path")
      .data(set.traces)
      .join("path")
      .attr("fill", "none")
      .attr("stroke", "#a3a3a3")
      .attr("stroke-opacity", 0.8)
      .attr("stroke-width", 0.8)
      .attr("d", vals => line(set.hz.map((f, k) => [f, vals[k]])));
  });
  plot.append("path")
    .attr("fill", "none")
    .attr("stroke", p.color)
    .attr("stroke-width", 2.6)
    .attr("stroke-linejoin", "round")
    .attr("d", line(p.meanHz.map((f, k) => [f, p.meanAmp[k]])));

  // frame with inward ticks
  const tickLen = d => (isDecade(d) ? 8 : 5);
  const bottomAxis = g.append("g").attr("transform", `translate(0,${p.bottom})`).attr("color", axisColor)
    .call(d3.axisBottom(x).tickValues(x.ticks()).tickFormat("").tickSizeOuter(0).tickSizeInner(-5));
  bottomAxis.selectAll(".tick line").attr("y2", d => -tickLen(d));
  const topAxis = g.append("g").attr("transform", `translate(0,${p.top})`).attr("color", axisColor)
    .call(d3.axisTop(x).tickValues(x.ticks()).tickFormat("").tickSizeOuter(0).tickSizeInner(-5));
  topAxis.selectAll(".tick line").attr("y2", d => tickLen(d));
  const leftAxis = g.append("g").attr("transform", `translate(${x(0.2)},0)`).attr("color", axisColor)
    .call(d3.axisLeft(y).tickValues(y.ticks()).tickFormat("").tickSizeOuter(0).tickSizeInner(-5));
  leftAxis.selectAll(".tick line").attr("x2", d => tickLen(d));
  const rightAxis = g.append("g").attr("transform", `translate(${x(20)},0)`).attr("color", axisColor)
    .call(d3.axisRight(y).tickValues(y.ticks()).tickFormat("").tickSizeOuter(0).tickSizeInner(-5));
  rightAxis.selectAll(".tick line").attr("x2", d => -tickLen(d));

  // decade tick labels as 10 with a raised exponent
  const yl = g.append("g");
  ampTickExps.forEach(e => {
    const yy = y(Math.pow(10, e));
    yl.append("text").attr("x", 47).attr("y", yy + 4.5).attr("text-anchor", "end")
      .style("font-size", "12px").text("10");
    yl.append("text").attr("x", 48.5).attr("y", yy - 0.5).attr("text-anchor", "start")
      .style("font-size", "8px").text(e);
  });
  freqTickExps.forEach(e => {
    const xx = x(Math.pow(10, e));
    yl.append("text").attr("x", xx).attr("y", p.bottom + 22).attr("text-anchor", "middle")
      .style("font-size", "12px").text("10");
    yl.append("text").attr("x", xx + 7.5).attr("y", p.bottom + 16.5).attr("text-anchor", "start")
      .style("font-size", "8px").text(e);
  });

  // axis titles
  g.append("text")
    .attr("x", 583).attr("y", p.bottom + 43)
    .attr("text-anchor", "middle").style("font-size", "16px")
    .text(freqLabel);
  g.append("text")
    .attr("transform", `translate(26,${(p.top + p.bottom) / 2}) rotate(-90)`)
    .attr("text-anchor", "middle").style("font-size", "16px")
    .text(p.label);
});
</script>
</body>
</html>
